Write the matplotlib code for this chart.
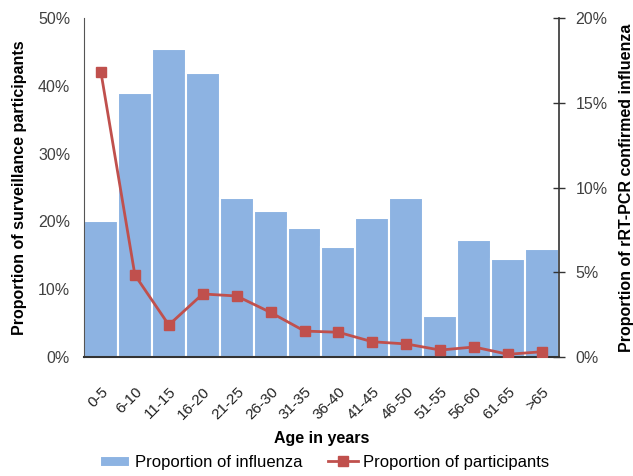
import numpy as np
import matplotlib as mpl
mpl.use('Agg')
import matplotlib.pyplot as plt
from matplotlib.ticker import FuncFormatter, MultipleLocator

#
#--- data
#
age_groups = ['0-5', '6-10', '11-15', '16-20', '21-25', '26-30', '31-35',
              '36-40', '41-45', '46-50', '51-55', '56-60', '61-65', '>65']
influenza = [20.0, 38.9, 45.4, 41.9, 23.5, 21.6, 19.1,
             16.3, 20.5, 23.5, 6.1, 17.2, 14.5, 15.9]
participants = [16.8, 4.84, 1.89, 3.72, 3.6, 2.63, 1.53,
                1.46, 0.9, 0.77, 0.41, 0.59, 0.16, 0.31]

plt.rcParams['font.family'] = ['Liberation Sans', 'DejaVu Sans']

bar_col = '#8DB3E2'
line_col = '#C0504D'
txt_col = '#404040'

fig = plt.figure(figsize=(6.33, 4.76), dpi=100)
ax = fig.add_axes([0.1327, 0.25, 0.7503, 0.712])
x = np.arange(len(age_groups))

b = ax.bar(x, influenza, width=1.0, color=bar_col, edgecolor='white', linewidth=1.5,
           label='Proportion of influenza')
ax.set_xlim(-0.5, len(age_groups) - 0.5)
ax.set_ylim(0, 50)
ax.yaxis.set_major_locator(MultipleLocator(10))
ax.yaxis.set_major_formatter(FuncFormatter(lambda v, p: '%d%%' % v))
ax.tick_params(axis='y', length=0, labelsize=11.5, labelcolor=txt_col, pad=10)
ax.set_xticks(x)
ax.set_xticklabels(age_groups, rotation=45, ha='right', rotation_mode='anchor')
ax.tick_params(axis='x', length=0, labelsize=11, labelcolor='#222222', pad=20)
for s in ['top', 'right']:
    ax.spines[s].set_visible(False)
ax.spines['left'].set_color('#555555')
ax.spines['bottom'].set_color('#333333')
ax.spines['bottom'].set_linewidth(1.5)
ax.set_ylabel('Proportion of surveillance participants', fontsize=11.5, fontweight='bold', labelpad=8)
ax.set_xlabel('Age in years', fontsize=11.5, fontweight='bold', labelpad=6)

ax2 = ax.twinx()
l, = ax2.plot(x, participants, color=line_col, lw=2, marker='s', markersize=6.5,
              label='Proportion of participants')
ax2.set_ylim(0, 20)
ax2.yaxis.set_major_locator(MultipleLocator(5))
ax2.yaxis.set_major_formatter(FuncFormatter(lambda v, p: '%d%%' % v))
ax2.tick_params(axis='y', direction='inout', length=8, width=1, color='#333333',
                labelsize=11.5, labelcolor=txt_col, pad=8)
for s in ['top', 'left', 'bottom']:
    ax2.spines[s].set_visible(False)
ax2.spines['right'].set_color('#333333')
ax2.spines['right'].set_linewidth(1.2)
ax2.set_ylabel('Proportion of rRT-PCR confirmed influenza', fontsize=11.5, fontweight='bold', labelpad=8)

fig.legend([b, l], ['Proportion of influenza', 'Proportion of participants'],
           loc='center', bbox_to_anchor=(0.513, 0.028), ncol=2, frameon=False,
           fontsize=12, handlelength=1.8, columnspacing=1.5, handletextpad=0.3)

plt.savefig('out.png', dpi=100)
